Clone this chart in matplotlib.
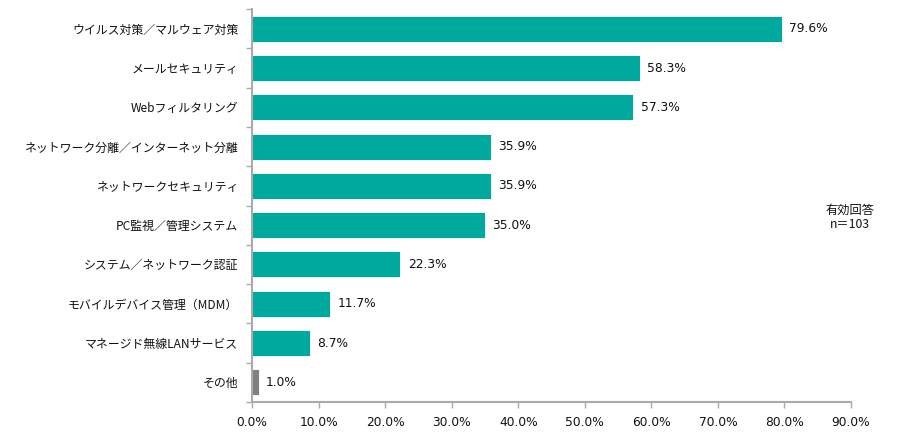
import matplotlib
matplotlib.use("Agg")
import matplotlib.pyplot as plt
import numpy as np
from matplotlib.ticker import FixedLocator, FuncFormatter

plt.rcParams['font.family'] = ['Noto Sans CJK JP', 'DejaVu Sans']

categories = ["ウイルス対策／マルウェア対策", "メールセキュリティ", "Webフィルタリング",
              "ネットワーク分離／インターネット分離", "ネットワークセキュリティ", "PC監視／管理システム",
              "システム／ネットワーク認証", "モバイルデバイス管理（MDM）", "マネージド無線LANサービス", "その他"]
values = [79.6, 58.3, 57.3, 35.9, 35.9, 35.0, 22.3, 11.7, 8.7, 1.0]
colors = ["#00A99D"] * 9 + ["#808080"]
xticks = [0, 10, 20, 30, 40, 50, 60, 70, 80, 90]

num_font = ['DejaVu Sans']

fig = plt.figure(figsize=(9, 4.4), dpi=100)
ax = fig.add_axes([0.28, 0.0864, 0.6656, 0.893])
y = np.arange(len(categories))
ax.barh(y, values, height=0.66, color=colors, edgecolor="white", linewidth=0.6)
ax.set_xlim(0, 90)
ax.set_ylim(len(categories) - 0.5, -0.5)
ax.set_yticks(y)
ax.set_yticklabels(categories, fontsize=8.6, color="#111111")
ax.yaxis.set_minor_locator(FixedLocator(np.arange(-0.5, len(categories), 1)))
ax.tick_params(axis='y', which='major', length=0, pad=10)
ax.tick_params(axis='y', which='minor', length=4, color="#AAAAAA", width=1)
ax.set_xticks(xticks)
ax.xaxis.set_major_formatter(FuncFormatter(lambda v, p: f"{v:.1f}%"))
ax.tick_params(axis='x', length=4, color="#AAAAAA", width=1, labelsize=8.8, labelcolor="#111111", pad=6)
for lbl in ax.get_xticklabels():
    lbl.set_family(num_font)
for s in ["top", "right"]:
    ax.spines[s].set_visible(False)
for s in ["left", "bottom"]:
    ax.spines[s].set_color("#AAAAAA")
    ax.spines[s].set_linewidth(1.5)
for i, v in enumerate(values):
    ax.text(v + 1.1, i, f"{v:.1f}%", va="center", ha="left", fontsize=8.8, color="#111111", family=num_font)
fig.text(0.944, 0.505, "有効回答\nn＝103", ha="center", va="center", fontsize=8.8, color="#111111", linespacing=1.1)
fig.savefig("out.png", dpi=100)
